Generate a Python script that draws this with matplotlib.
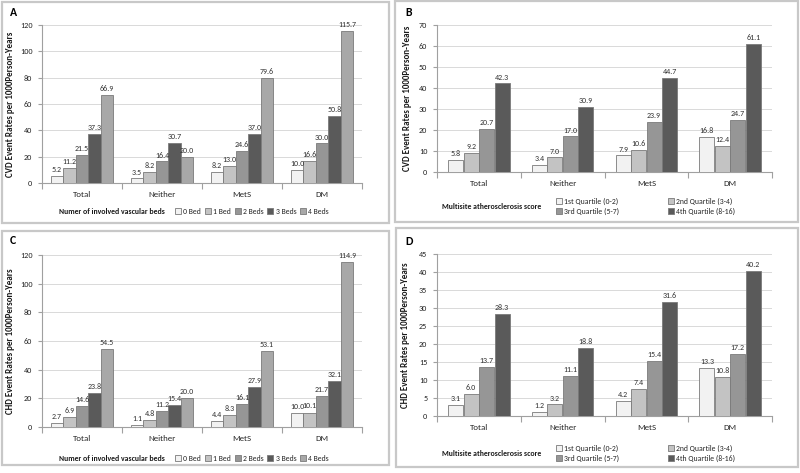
import matplotlib
matplotlib.use("Agg")
import matplotlib.pyplot as plt
import numpy as np
from matplotlib.patches import Rectangle, Patch
from matplotlib import font_manager

names = {f.name for f in font_manager.fontManager.ttflist}
base = next((c for c in ['Carlito', 'Liberation Sans Narrow', 'Liberation Sans'] if c in names), 'DejaVu Sans')
plt.rcParams['font.family'] = [base, 'DejaVu Sans']

categories = ["Total", "Neither", "MetS", "DM"]

beds_labels = ["0 Bed", "1 Bed", "2 Beds", "3 Beds", "4 Beds"]
beds_colors = ["#f2f2f2", "#c3c3c3", "#969696", "#5a5a5a", "#a8a8a8"]

quart_labels = ["1st Quartile (0-2)", "2nd Quartile (3-4)", "3rd Quartile (5-7)", "4th Quartile (8-16)"]
quart_colors = ["#f2f2f2", "#c3c3c3", "#969696", "#5a5a5a"]

# Panel A: CVD by number of beds
cvd_beds = {
    "0 Bed": [5.2, 3.5, 8.2, 10.0],
    "1 Bed": [11.2, 8.2, 13.0, 16.6],
    "2 Beds": [21.5, 16.4, 24.6, 30.0],
    "3 Beds": [37.3, 30.7, 37.0, 50.8],
    "4 Beds": [66.9, 20.0, 79.6, 115.7],
}
# Panel B: CVD by quartile
cvd_quart = {
    "1st Quartile (0-2)": [5.8, 3.4, 7.9, 16.8],
    "2nd Quartile (3-4)": [9.2, 7.0, 10.6, 12.4],
    "3rd Quartile (5-7)": [20.7, 17.0, 23.9, 24.7],
    "4th Quartile (8-16)": [42.3, 30.9, 44.7, 61.1],
}
# Panel C: CHD by number of beds
chd_beds = {
    "0 Bed": [2.7, 1.1, 4.4, 10.0],
    "1 Bed": [6.9, 4.8, 8.3, 10.1],
    "2 Beds": [14.6, 11.2, 16.1, 21.7],
    "3 Beds": [23.8, 15.4, 27.9, 32.1],
    "4 Beds": [54.5, 20.0, 53.1, 114.9],
}
# Panel D: CHD by quartile
chd_quart = {
    "1st Quartile (0-2)": [3.1, 1.2, 4.2, 13.3],
    "2nd Quartile (3-4)": [6.0, 3.2, 7.4, 10.8],
    "3rd Quartile (5-7)": [13.7, 11.1, 15.4, 17.2],
    "4th Quartile (8-16)": [28.3, 18.8, 31.6, 40.2],
}

W, H = 800, 473
fig = plt.figure(figsize=(W / 100, H / 100), dpi=100)
renderer = fig.canvas.get_renderer()

def text_w(s, fs, weight="normal"):
    t = fig.text(0, 0, s, fontsize=fs, fontweight=weight)
    w = t.get_window_extent(renderer).width
    t.remove()
    return w

def fit_size(s, target_px, weight="normal", lo=4.0, hi=9.0):
    return float(np.clip(10 * target_px / text_w(s, 10, weight), lo, hi))

FS_TICK = fit_size("120", 12.5)
FS_DATA = fit_size("115.7", 18.5)
FS_CAT = fit_size("Total", 18.5)
FS_LEG = fit_size("2nd Quartile (3-4)", 56)
FS_TITLE = fit_size("Numer of involved vascular beds", 106, "bold")
FS_YLAB = fit_size("CVD Event Rates per 1000Person-Years", 145, "bold")
FS_PX = FS_LEG * 100 / 72
HL, HTP = 0.8, 0.3
TXT = "#262626"

def px_axes(l, t, r, b):
    return fig.add_axes([l / W, 1 - b / H, (r - l) / W, (b - t) / H])

def border(l, t, r, b):
    fig.patches.append(Rectangle((l / W, 1 - b / H), (r - l) / W, (b - t) / H,
                                 transform=fig.transFigure, fill=False,
                                 edgecolor="#c8c8c8", linewidth=1.6))

def draw_panel(ax, data, labels, colors, ymax, ystep, ylabel, group_w, ylab_x):
    n = len(labels)
    x = np.arange(len(categories))
    bw = group_w / n
    for i, lab in enumerate(labels):
        vals = data[lab]
        xs = x - group_w / 2 + bw * (i + 0.5)
        ax.bar(xs, vals, width=bw * 0.97, color=colors[i], edgecolor="#7a7a7a",
               linewidth=0.6, zorder=3)
        for xv, v in zip(xs, vals):
            ax.text(xv, v + ymax * 0.018, f"{v:.1f}", ha="center", va="bottom",
                    fontsize=FS_DATA, color="#333333", zorder=4)
    ax.set_xlim(-0.5, len(categories) - 0.5)
    ax.set_ylim(0, ymax)
    ax.set_yticks(np.arange(0, ymax + 0.01, ystep))
    ax.yaxis.set_major_formatter(matplotlib.ticker.FormatStrFormatter('%d'))
    ax.set_xticks(x)
    ax.set_xticklabels(categories, fontsize=FS_CAT, color=TXT)
    ax.set_xticks(np.arange(-0.5, len(categories), 1.0), minor=True)
    ax.tick_params(axis="x", which="major", length=0, pad=6)
    ax.tick_params(axis="x", which="minor", length=4, color="#a0a0a0", width=0.8)
    ax.tick_params(axis="y", length=3, color="#a0a0a0", labelsize=FS_TICK,
                   labelcolor=TXT, pad=4)
    ax.grid(axis="y", color="#d9d9d9", linewidth=0.7, zorder=0)
    for s in ["top", "right"]:
        ax.spines[s].set_visible(False)
    ax.spines["left"].set_color("#a0a0a0")
    ax.spines["bottom"].set_color("#a0a0a0")
    ax.spines["left"].set_linewidth(0.8)
    ax.spines["bottom"].set_linewidth(0.8)
    ax.set_ylabel(ylabel, fontsize=FS_YLAB, fontweight="bold", color="#1a1a1a")
    pos = ax.get_position()
    ax.yaxis.set_label_coords(ylab_x / W, pos.y0 + pos.height / 2, transform=fig.transFigure)

def legend_handles(labels, colors):
    return [Patch(facecolor=c, edgecolor="#7a7a7a", linewidth=0.6, label=l)
            for l, c in zip(labels, colors)]

def beds_legend(title_x, title_y, leg_x, target_w=154):
    fig.text(title_x / W, 1 - title_y / H, "Numer of involved vascular beds",
             fontsize=FS_TITLE, fontweight="bold", ha="left", va="center", color="#1a1a1a")
    entries_w = sum((HL + HTP) * FS_PX + text_w(l, FS_LEG) for l in beds_labels)
    cs_px = (target_w - entries_w) / (len(beds_labels) - 1)
    fig.legend(handles=legend_handles(beds_labels, beds_colors), ncol=5,
               loc="center left", bbox_to_anchor=(leg_x / W, 1 - title_y / H),
               bbox_transform=fig.transFigure, frameon=False, fontsize=FS_LEG,
               handlelength=HL, handleheight=HL, handletextpad=HTP,
               columnspacing=max(cs_px / FS_PX, 0.1),
               borderaxespad=0, borderpad=0, labelcolor=TXT)

def quart_legend(title_x, title_y, leg_x, col_pitch=112):
    fig.text(title_x / W, 1 - title_y / H, "Multisite atherosclerosis score",
             fontsize=FS_TITLE, fontweight="bold", ha="left", va="center", color="#1a1a1a")
    hs = legend_handles(quart_labels, quart_colors)
    order = [0, 2, 1, 3]
    col1_w = (HL + HTP) * FS_PX + max(text_w(quart_labels[0], FS_LEG),
                                      text_w(quart_labels[2], FS_LEG))
    cs_px = col_pitch - col1_w
    fig.legend(handles=[hs[i] for i in order], ncol=2,
               loc="center left", bbox_to_anchor=(leg_x / W, 1 - title_y / H),
               bbox_transform=fig.transFigure, frameon=False, fontsize=FS_LEG,
               handlelength=HL, handleheight=HL, handletextpad=HTP,
               columnspacing=max(cs_px / FS_PX, 0.1),
               labelspacing=0.35, borderaxespad=0, borderpad=0, labelcolor=TXT)

# Borders
border(2, 2, 389, 223)
border(395, 1, 798, 222)
border(2, 231, 389, 465)
border(396, 228, 798, 467)

# Panel A
axA = px_axes(42, 25, 362, 183)
draw_panel(axA, cvd_beds, beds_labels, beds_colors, 120, 20,
           "CVD Event Rates per 1000Person-Years", 0.78, 15)
beds_legend(59, 211, 175)
fig.text(10 / W, 1 - 13 / H, "A", fontsize=8.5, fontweight="bold", va="center")

# Panel B
axB = px_axes(437, 25, 772, 172)
draw_panel(axB, cvd_quart, quart_labels, quart_colors, 70, 10,
           "CVD Event Rates per 1000Person-Years", 0.74, 412)
quart_legend(442, 206, 556)
fig.text(405 / W, 1 - 13 / H, "B", fontsize=8.5, fontweight="bold", va="center")

# Panel C
axC = px_axes(42, 255, 362, 427)
draw_panel(axC, chd_beds, beds_labels, beds_colors, 120, 20,
           "CHD Event Rates per 1000Person-Years", 0.78, 15)
beds_legend(59, 458, 175)
fig.text(10 / W, 1 - 240 / H, "C", fontsize=8.5, fontweight="bold", va="center")

# Panel D
axD = px_axes(437, 254, 772, 416)
draw_panel(axD, chd_quart, quart_labels, quart_colors, 45, 5,
           "CHD Event Rates per 1000Person-Years", 0.74, 410)
quart_legend(442, 453, 556)
fig.text(405 / W, 1 - 241 / H, "D", fontsize=8.5, fontweight="bold", va="center")

fig.savefig("out.png", dpi=100, facecolor="white")
